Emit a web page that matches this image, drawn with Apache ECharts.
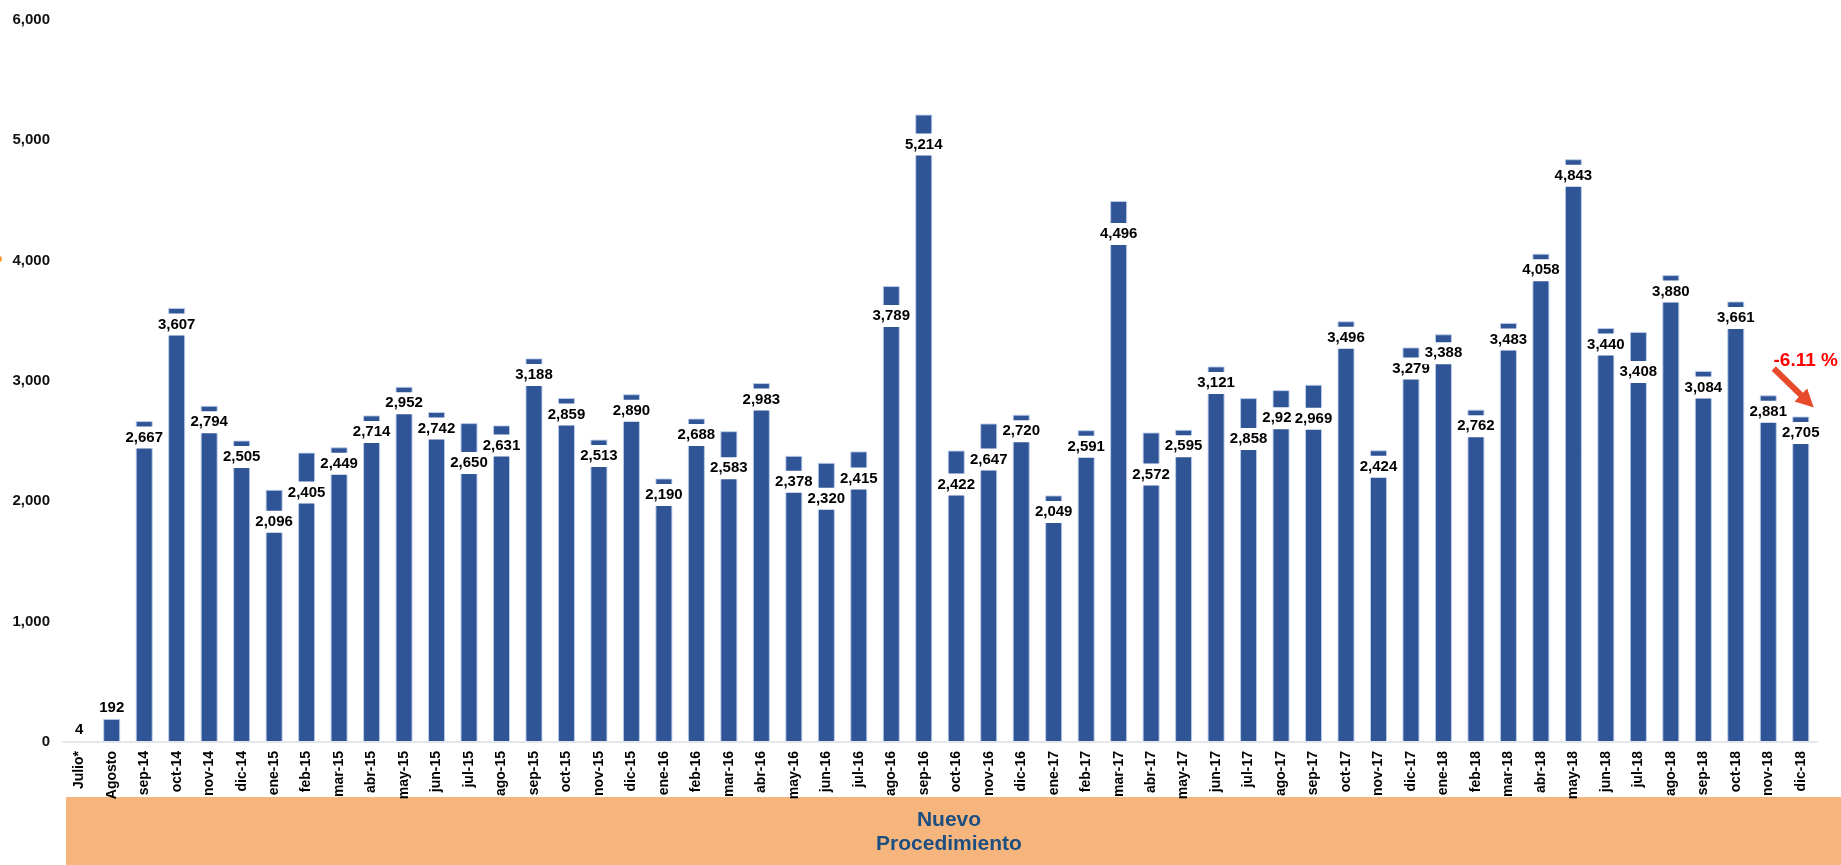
<!DOCTYPE html>
<html>
<head>
<meta charset="utf-8">
<script src="https://cdn.jsdelivr.net/npm/echarts@6/dist/echarts.min.js"></script>
<style>
  html, body { margin: 0; padding: 0; background: #ffffff; }
  #chart { width: 1841px; height: 865px; }
</style>
</head>
<body>
<div id="chart"></div>
<script>
// Monthly case counts, July 2014 to December 2018
const months = [
  'Julio*', 'Agosto', 'sep-14', 'oct-14', 'nov-14', 'dic-14',
  'ene-15', 'feb-15', 'mar-15', 'abr-15', 'may-15', 'jun-15', 'jul-15', 'ago-15', 'sep-15', 'oct-15', 'nov-15', 'dic-15',
  'ene-16', 'feb-16', 'mar-16', 'abr-16', 'may-16', 'jun-16', 'jul-16', 'ago-16', 'sep-16', 'oct-16', 'nov-16', 'dic-16',
  'ene-17', 'feb-17', 'mar-17', 'abr-17', 'may-17', 'jun-17', 'jul-17', 'ago-17', 'sep-17', 'oct-17', 'nov-17', 'dic-17',
  'ene-18', 'feb-18', 'mar-18', 'abr-18', 'may-18', 'jun-18', 'jul-18', 'ago-18', 'sep-18', 'oct-18', 'nov-18', 'dic-18'
];
const cases = [
  4, 192, 2667, 3607, 2794, 2505,
  2096, 2405, 2449, 2714, 2952, 2742, 2650, 2631, 3188, 2859, 2513, 2890,
  2190, 2688, 2583, 2983, 2378, 2320, 2415, 3789, 5214, 2422, 2647, 2720,
  2049, 2591, 4496, 2572, 2595, 3121, 2858, 2924, 2969, 3496, 2424, 3279,
  3388, 2762, 3483, 4058, 4843, 3440, 3408, 3880, 3084, 3661, 2881, 2705
];
const yMax = 6000;
const yStep = 1000;
const changeText = '-6.11 %';
const bandText = 'Nuevo\nProcedimiento';

// Months whose value tag sits lower inside the bar (px from bar top to tag centre)
const tagDrop = {
  'ene-15': 32, 'feb-15': 40, 'jul-15': 40, 'ago-15': 20,
  'mar-16': 37, 'may-16': 26, 'jun-16': 36, 'jul-16': 27, 'ago-16': 30, 'sep-16': 30,
  'oct-16': 34, 'nov-16': 36, 'mar-17': 33, 'abr-17': 42, 'jul-17': 41, 'ago-17': 28,
  'sep-17': 34, 'dic-17': 21, 'ene-18': 19, 'jul-18': 40
};
const DEFAULT_DROP = 16.5;
const TAG_HALF = 11;
const FONT = '"Liberation Sans", Arial, sans-serif';
const fmt = v => v.toLocaleString('en-US');

const seriesData = cases.map((v, i) => {
  const m = months[i];
  if (v < 1000) {
    return {
      value: v,
      label: { position: 'top', distance: 3, backgroundColor: 'transparent', padding: 0 }
    };
  }
  const drop = tagDrop[m] !== undefined ? tagDrop[m] : DEFAULT_DROP;
  return { value: v, label: { distance: drop - TAG_HALF } };
});

const chart = echarts.init(document.getElementById('chart'), null, { renderer: 'canvas' });

chart.setOption({
  animation: false,
  backgroundColor: '#ffffff',
  textStyle: { fontFamily: FONT },
  grid: { left: 63, right: 24, top: 20, bottom: 123, containLabel: false },
  xAxis: {
    type: 'category',
    data: months,
    z: 5,
    axisLine: { show: true, lineStyle: { color: '#E4E6EA', width: 2 } },
    axisTick: { show: false },
    axisLabel: {
      interval: 0,
      rotate: 90,
      margin: 9,
      color: '#000000',
      fontFamily: FONT,
      fontWeight: 'bold',
      fontSize: 14
    },
    splitLine: { show: false }
  },
  yAxis: {
    type: 'value',
    min: 0,
    max: yMax,
    interval: yStep,
    axisLine: { show: false },
    axisTick: { show: false },
    splitLine: { show: false },
    axisLabel: {
      margin: 13,
      color: '#111111',
      fontFamily: FONT,
      fontWeight: 'bold',
      fontSize: 15,
      formatter: v => fmt(v)
    }
  },
  series: [{
    type: 'bar',
    data: seriesData,
    barWidth: 17,
    itemStyle: {
      color: '#2F5597',
      borderColor: 'rgba(190,206,235,0.9)',
      borderWidth: 1
    },
    label: {
      show: true,
      position: 'insideTop',
      color: '#000000',
      fontFamily: FONT,
      fontWeight: 'bold',
      fontSize: 15,
      lineHeight: 16,
      backgroundColor: '#ffffff',
      padding: [3, 3, 3, 3],
      formatter: p => fmt(p.value)
    },
    labelLayout: { hideOverlap: false }
  }]
});

// Annotation arrow and percentage change next to the final month
const last = months.length - 1;
const [cx, cy] = chart.convertToPixel({ xAxisIndex: 0, yAxisIndex: 0 }, [months[last], cases[last]]);
const tip = [cx + 13, cy - 9];
const start = [cx - 27, cy - 48];
const dx = tip[0] - start[0], dy = tip[1] - start[1];
const len = Math.hypot(dx, dy);
const u = [dx / len, dy / len];
const n = [-u[1], u[0]];
const headLen = 18, shaftHalf = 3, headHalf = 9;
const neck = [tip[0] - u[0] * headLen, tip[1] - u[1] * headLen];
const pt = (b, k) => [b[0] + n[0] * k, b[1] + n[1] * k];
const arrowPts = [
  pt(start, shaftHalf), pt(neck, shaftHalf), pt(neck, headHalf), tip,
  pt(neck, -headHalf), pt(neck, -shaftHalf), pt(start, -shaftHalf)
];

chart.setOption({
  graphic: [
    {
      type: 'rect',
      z: 1,
      shape: { x: 66, y: 797, width: 1841 - 66, height: 68 },
      style: { fill: '#F5B57D' },
      silent: true
    },
    {
      type: 'text',
      z: 2,
      x: 949,
      y: 832,
      style: {
        text: bandText,
        fill: '#1C4E80',
        font: 'bold 21px ' + FONT,
        lineHeight: 24,
        align: 'center',
        verticalAlign: 'middle'
      },
      silent: true
    },
    {
      type: 'polygon',
      z: 10,
      shape: { points: arrowPts },
      style: { fill: '#E84A2C' },
      silent: true
    },
    {
      type: 'text',
      z: 10,
      x: cx + 5,
      y: cy - 56,
      style: {
        text: changeText,
        fill: '#FF0000',
        font: 'bold 19px ' + FONT,
        align: 'center',
        verticalAlign: 'middle'
      },
      silent: true
    },
    {
      type: 'circle',
      z: 10,
      shape: { cx: -1, cy: 259, r: 3 },
      style: { fill: '#F39A2E' },
      silent: true
    }
  ]
});
</script>
</body>
</html>
